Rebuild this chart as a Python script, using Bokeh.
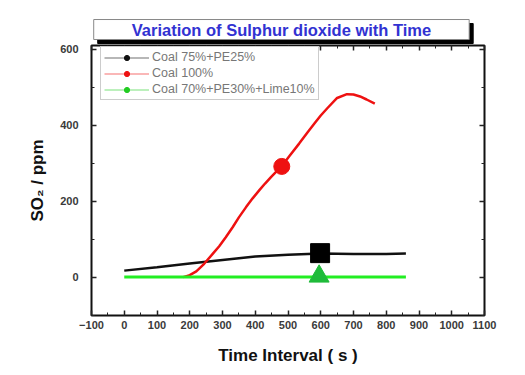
from bokeh.plotting import figure
from bokeh.models import (Range1d, LinearAxis, SingleIntervalTicker, Label,
                          Legend, LegendItem)
from bokeh.embed import file_html
from bokeh.resources import INLINE

NAN = float("nan")

# ---------------- data ----------------
series_labels = ["Coal 75%+PE25%", "Coal 100%", "Coal 70%+PE30%+Lime10%"]

coal75_t = [0, 100, 200, 300, 400, 500, 600, 700, 800, 860]
coal75_so2 = [18, 27, 37, 46, 55, 60, 63, 62, 62, 63]

coal100_t = [180, 200, 220, 244, 270, 290, 310, 331, 350, 372, 392, 412,
             430, 448, 465, 480, 505, 534, 560, 580, 600, 620, 650, 680,
             700, 720, 740, 765]
coal100_so2 = [1, 6, 16, 36, 62, 82, 106, 132, 158, 185, 208, 229,
               247, 264, 279, 292, 320, 352, 382, 404, 426, 445, 472, 482,
               481, 476, 468, 457]

coal70_t = [0, 200, 400, 600, 860]
coal70_so2 = [1, 1, 1, 1, 1]

marker_t = [598, 481, 595]
marker_so2 = [64, 292, 3]

x_range = (-100, 1100)
y_range = (-100, 610)

title_text = "Variation of Sulphur dioxide with Time"
x_label = "Time Interval ( s )"
y_label = "SO\u2082 / ppm"

FONT = "Liberation Sans"

p = figure(frame_width=393, frame_height=270, output_backend="svg",
           toolbar_location=None,
           x_range=Range1d(*x_range), y_range=Range1d(*y_range),
           min_border_left=91, min_border_right=32, min_border_top=45,
           min_border_bottom=50)
p.title.visible = False
p.background_fill_color = "white"
p.border_fill_color = "white"
p.outline_line_color = "#111111"
p.outline_line_width = 2
p.xgrid.visible = False
p.ygrid.visible = False


def style_axis(ax, labels=True):
    ax.axis_line_color = None
    ax.major_tick_in = 5
    ax.major_tick_out = 0
    ax.minor_tick_in = 3
    ax.minor_tick_out = 0
    ax.major_tick_line_color = "#222222"
    ax.minor_tick_line_color = "#222222"
    ax.major_tick_line_width = 1.5
    ax.minor_tick_line_width = 1
    ax.major_label_text_font = FONT
    ax.major_label_text_font_style = "bold"
    ax.major_label_text_font_size = "11px"
    ax.major_label_text_color = "#3a3a3a"
    if not labels:
        ax.major_label_text_alpha = 0
        ax.major_label_text_font_size = "1px"
        ax.major_label_standoff = 0


xa = p.xaxis[0]
xa.ticker = SingleIntervalTicker(interval=100, num_minor_ticks=2)
style_axis(xa)
xa.major_label_standoff = 5
xa.axis_label = x_label
xa.axis_label_text_font = FONT
xa.axis_label_text_font_style = "bold"
xa.axis_label_text_font_size = "17px"
xa.axis_label_text_color = "#111111"
xa.axis_label_standoff = 14

ya = p.yaxis[0]
ya.ticker = SingleIntervalTicker(interval=200, num_minor_ticks=2)
style_axis(ya)
ya.major_label_standoff = 13
ya.axis_label = y_label
ya.axis_label_text_font = FONT
ya.axis_label_text_font_style = "bold"
ya.axis_label_text_font_size = "17px"
ya.axis_label_text_color = "#111111"
ya.axis_label_standoff = 10

ra = LinearAxis(ticker=SingleIntervalTicker(interval=200, num_minor_ticks=2))
style_axis(ra, labels=False)
p.add_layout(ra, "right")
ta = LinearAxis(ticker=SingleIntervalTicker(interval=100, num_minor_ticks=2))
style_axis(ta, labels=False)
p.add_layout(ta, "above")

# data lines
p.line(coal75_t, coal75_so2, line_color="#111111", line_width=2.5)
p.line(coal100_t, coal100_so2, line_color="#ee1111", line_width=2.5)
p.line(coal70_t, coal70_so2, line_color="#22ee22", line_width=3)

p.scatter([marker_t[0]], [marker_so2[0]], marker="square", size=19,
          fill_color="black", line_color="black")
p.scatter([marker_t[1]], [marker_so2[1]], marker="circle", size=16,
          fill_color="#ee1111", line_color="#ee1111")
p.scatter([marker_t[2]], [marker_so2[2]], marker="triangle", size=20,
          fill_color="#1fbb3a", line_color="#1fbb3a")

# legend (small markers, faded lines) - proxies hold no visible data
colors = ["#111111", "#ee1111", "#22cc22"]
items = []
for lab, c in zip(series_labels, colors):
    l = p.line([NAN], [NAN], line_color=c, line_alpha=0.3, line_width=2)
    s = p.scatter([NAN], [NAN], marker="circle", size=4,
                  fill_color=c, line_color=c)
    items.append(LegendItem(label=lab, renderers=[l, s]))
leg = Legend(items=items, location=(9, 215))
leg.margin = 0
leg.padding = 3
leg.spacing = 2
leg.glyph_width = 45
leg.glyph_height = 13
leg.label_height = 13
leg.label_standoff = 3
leg.label_text_font = FONT
leg.label_text_font_size = "12.5px"
leg.label_text_color = "#777777"
leg.border_line_color = "#999999"
leg.border_line_width = 1
leg.background_fill_alpha = 1
p.add_layout(leg)

# title box with shadow (in the top side panel so it is not clipped)
tx, ty = 480, 652
shadow = Label(x=tx, y=ty, text=title_text, text_align="center",
               text_baseline="middle", text_font=FONT,
               text_font_style="bold", text_font_size="16.5px",
               text_color="black", background_fill_color="black",
               border_line_color="black", padding=(38, 1),
               x_offset=4, y_offset=-4)
title = Label(x=tx, y=ty, text=title_text, text_align="center",
              text_baseline="middle", text_font=FONT,
              text_font_style="bold", text_font_size="16.5px",
              text_color="#3232d2", background_fill_color="white",
              border_line_color="#888888", border_line_width=1,
              padding=(38, 1))
p.add_layout(shadow, "above")
p.add_layout(title, "above")

open("out.html", "w").write(file_html(p, INLINE))
